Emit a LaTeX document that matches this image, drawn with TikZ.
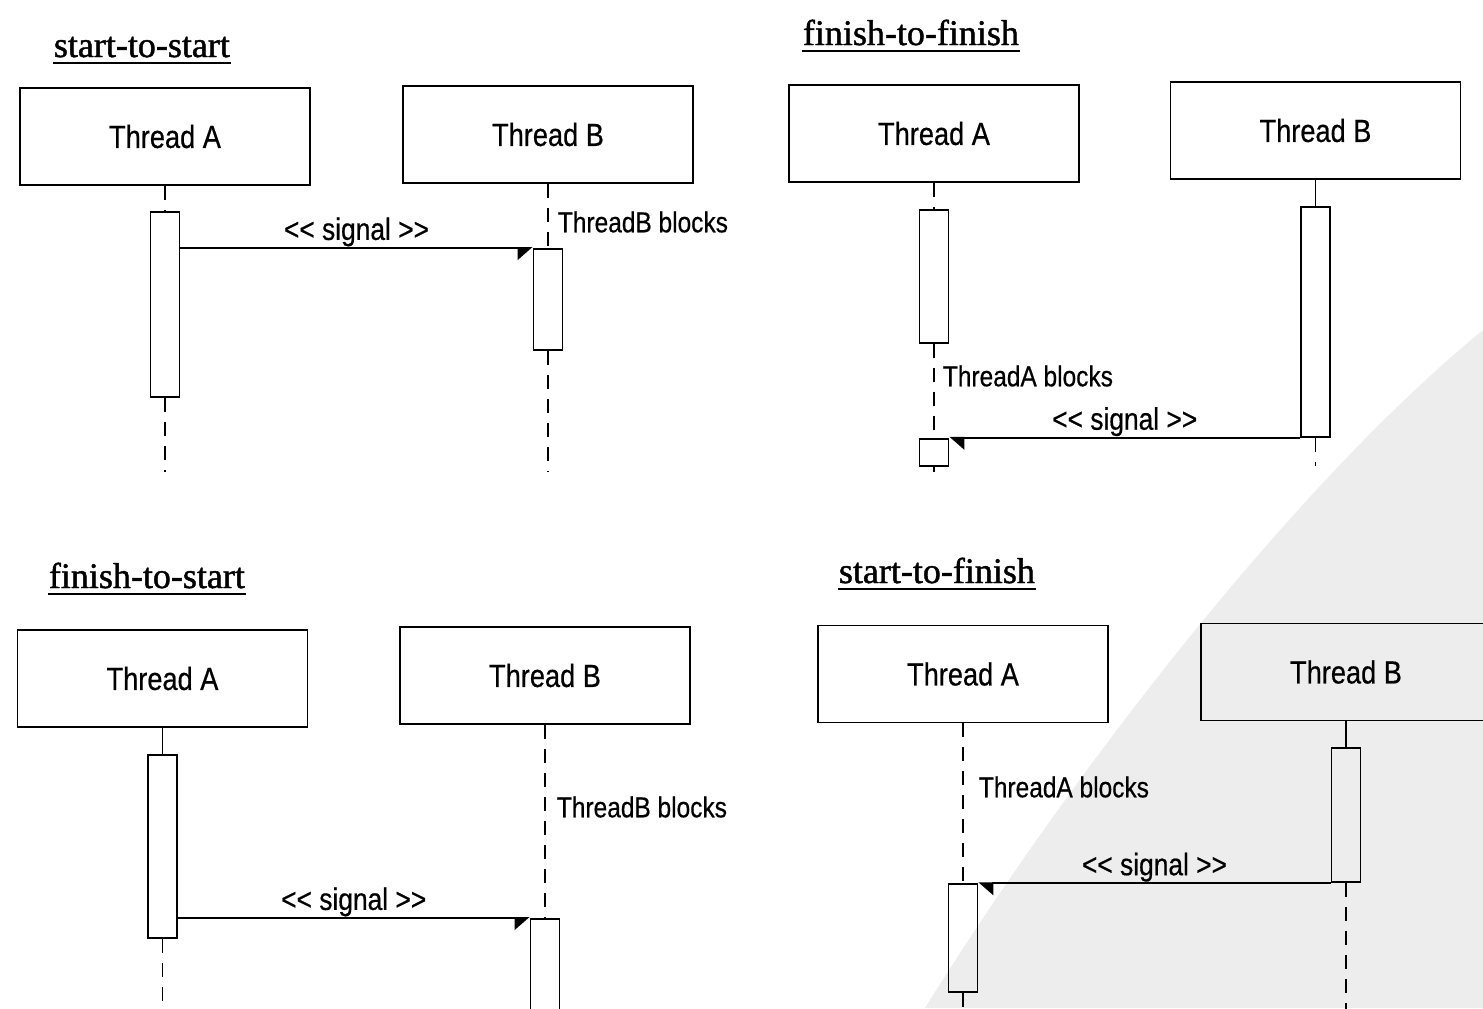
\documentclass[tikz,border=0pt]{standalone}
\usepackage{fontspec}
\setmainfont{Liberation Serif}[FakeBold=1.2]
\newfontfamily\lblfont[FakeStretch=0.85,FakeBold=0.5]{Liberation Sans}
\usetikzlibrary{positioning,arrows.meta}

\begin{document}
\begin{tikzpicture}[x=0.5pt,y=-0.5pt,line width=0.9pt,
	thread/.style={draw, minimum width=145pt, minimum height=48.5pt, font=\lblfont\fontsize{16}{18}\selectfont},
	act/.style={draw, minimum width=14.5pt, inner sep=0pt},
	life/.style={dash pattern=on 7pt off 5pt},
	sigr/.style={-{Triangle[harpoon,swap,length=7pt,width=12pt]}},
	sigl/.style={-{Triangle[harpoon,length=7pt,width=12pt]}},
	siglbl/.style={midway, above=-3pt, font=\lblfont\fontsize{15.5}{17}\selectfont},
	blk/.style={anchor=west, inner sep=0pt, font=\lblfont\fontsize{14.4}{16}\selectfont},
	title/.style={anchor=base west, inner sep=0pt, font=\fontsize{18}{20}\selectfont},
	uline/.style={line width=1pt}]
	\clip (0,0) rectangle (1483,1008);
	\fill[white] (0,0) rectangle (1483,1008);
	% watermark
	\fill[black!7] (1483,330) .. controls (1300,480) and (1080,760) .. (925,1008) -- (1483,1008) -- cycle;

	% start-to-start
	\node[title] (ssT) at (53,57) {start-to-start};
	\draw[uline] ([yshift=-3pt]ssT.base west) -- ([yshift=-3pt]ssT.base east);
	\node[thread] (ssA) at (165,136.5) {Thread A};
	\node[thread] (ssB) at (548,134.5) {Thread B};
	\node[act, minimum height=92.5pt, below=12.5pt of ssA] (ssAa) {};
	\node[act, minimum height=50.5pt, below=32pt of ssB] (ssBa) {};
	\coordinate (ssAe) at (165,472);
	\coordinate (ssBe) at (548,472);
	\draw[life] (ssA) -- (ssAa);
	\draw[life] (ssAa) -- (ssAe);
	\draw[life] (ssB) -- (ssBa);
	\draw[life] (ssBa) -- (ssBe);
	\draw[sigr] (ssAa.east |- ssBa.north) -- (ssBa.north west) node[siglbl] {<\kern0pt< signal >\kern0pt>};
	\node[blk] (ssBlk) at (557,222) {ThreadB blocks};

	% finish-to-finish
	\node[title] (ffT) at (802,45) {finish-to-finish};
	\draw[uline] ([yshift=-3pt]ffT.base west) -- ([yshift=-3pt]ffT.base east);
	\node[thread] (ffA) at (934,133.5) {Thread A};
	\node[thread] (ffB) at (1315.5,130.5) {Thread B};
	\node[act, minimum height=66.5pt, below=13pt of ffA] (ffAa) {};
	\node[act, minimum height=115pt, below=13pt of ffB] (ffBa) {};
	\node[act, minimum height=13.5pt, anchor=north] (ffAb) at (ffA |- ffBa.south) {};
	\coordinate (ffAe) at (934,472);
	\coordinate (ffBe) at (1315.5,466);
	\draw[life] (ffA) -- (ffAa);
	\draw[life] (ffAa) -- (ffAb);
	\draw[life] (ffAb) -- (ffAe);
	\draw (ffB) -- (ffBa);
	\draw[life] (ffBa) -- (ffBe);
	\draw[sigl] (ffBa.south west) -- (ffAb.north east) node[siglbl] {<\kern0pt< signal >\kern0pt>};
	\node[blk] (ffBlk) at (942,376) {ThreadA blocks};

	% finish-to-start
	\node[title] (fsT) at (48,588) {finish-to-start};
	\draw[uline] ([yshift=-3pt]fsT.base west) -- ([yshift=-3pt]fsT.base east);
	\node[thread] (fsA) at (162.5,678.5) {Thread A};
	\node[thread] (fsB) at (545,675.5) {Thread B};
	\node[act, minimum height=91.5pt, below=13pt of fsA] (fsAa) {};
	\node[act, minimum height=60pt, below=96.5pt of fsB] (fsBa) {};
	\coordinate (fsAe) at (162.5,1010);
	\draw (fsA) -- (fsAa);
	\draw[life] (fsAa) -- (fsAe);
	\draw[life] (fsB) -- (fsBa);
	\draw[sigr] (fsAa.east |- fsBa.north) -- (fsBa.north west) node[siglbl] {<\kern0pt< signal >\kern0pt>};
	\node[blk] (fsBlk) at (556,807) {ThreadB blocks};

	% start-to-finish
	\node[title] (sfT) at (838,583) {start-to-finish};
	\draw[uline] ([yshift=-3pt]sfT.base west) -- ([yshift=-3pt]sfT.base east);
	\node[thread] (sfA) at (963,674) {Thread A};
	\node[thread] (sfB) at (1346,672) {Thread B};
	\node[act, minimum height=67pt, below=13pt of sfB] (sfBa) {};
	\node[act, minimum height=54pt, anchor=north] (sfAa) at (sfA |- sfBa.south) {};
	\coordinate (sfAe) at (963,1010);
	\coordinate (sfBe) at (1346,1010);
	\draw[life] (sfA) -- (sfAa);
	\draw[life] (sfAa) -- (sfAe);
	\draw (sfB) -- (sfBa);
	\draw[life] (sfBa) -- (sfBe);
	\draw[sigl] (sfBa.south west) -- (sfAa.north east) node[siglbl] {<\kern0pt< signal >\kern0pt>};
	\node[blk] (sfBlk) at (978,787) {ThreadA blocks};
\end{tikzpicture}
\end{document}
